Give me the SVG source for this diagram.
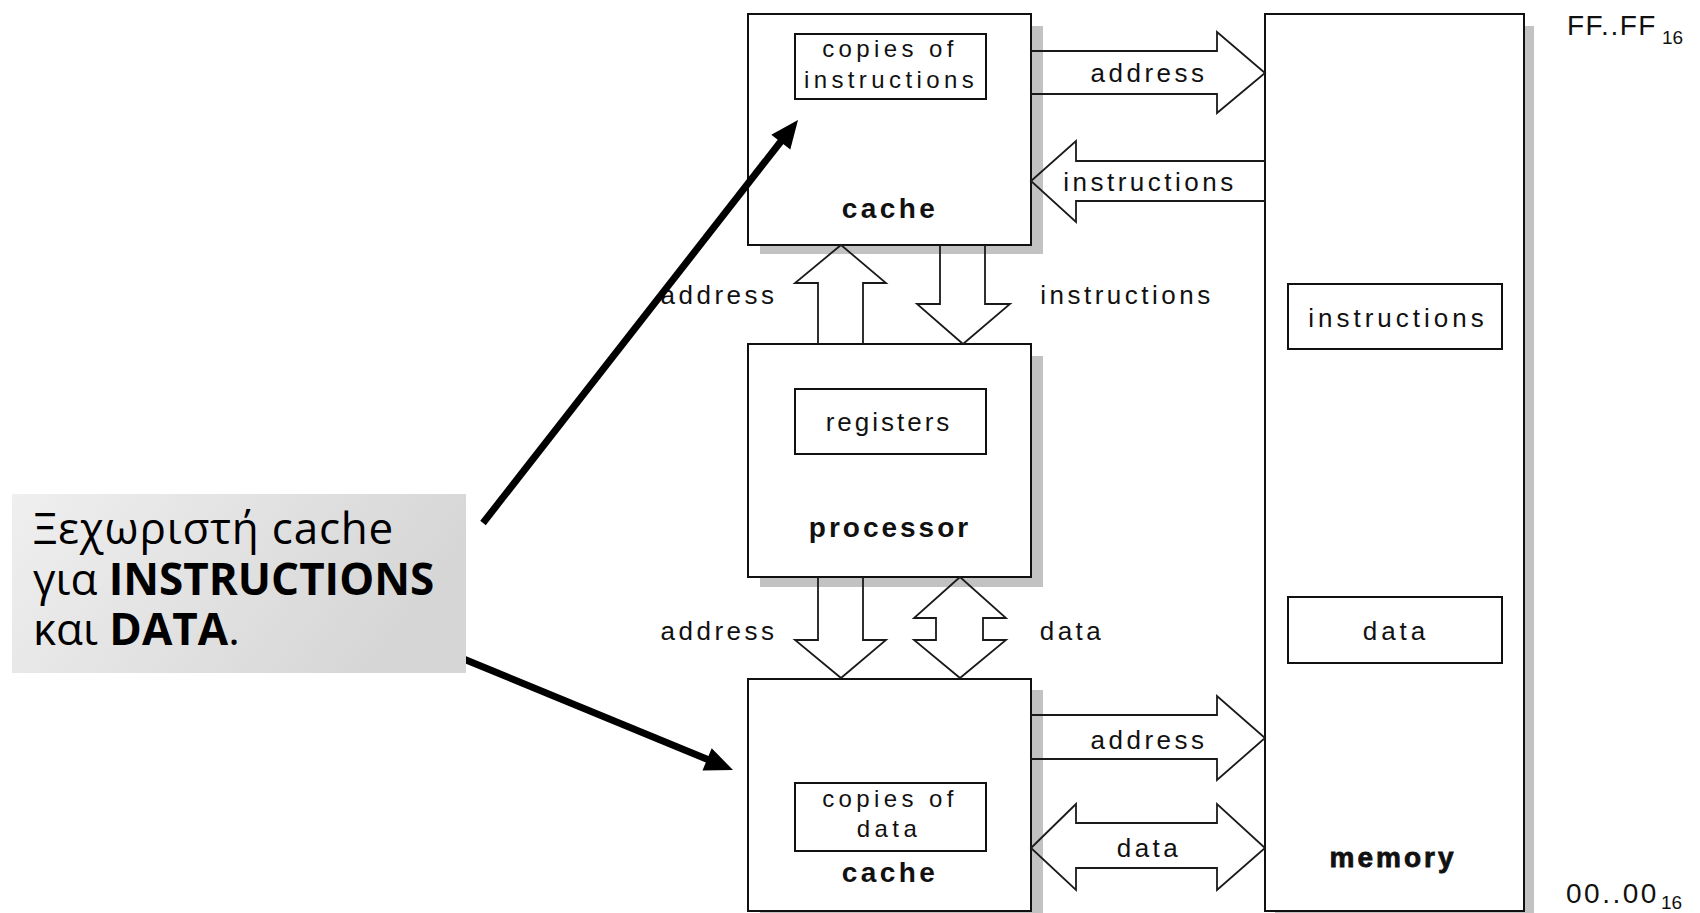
<svg xmlns="http://www.w3.org/2000/svg" width="1700" height="913" viewBox="0 0 1700 913">
  <defs>
    <linearGradient id="calloutFill" x1="0" y1="0" x2="1" y2="0.3">
      <stop offset="0" stop-color="#efefef"/>
      <stop offset="1" stop-color="#d6d6d6"/>
    </linearGradient>
    <style>
      .box { fill: #ffffff; stroke: #111111; stroke-width: 2; }
      .shadow { fill: #c2c2c2; stroke: none; }
      .inner { fill: none; stroke: #111111; stroke-width: 2; }
      .bus { fill: none; stroke: #1a1a1a; stroke-width: 1.8; stroke-linejoin: miter; }
      .lbl { font-family: "Liberation Sans", Arial, sans-serif; font-size: 26px; fill: #111111; letter-spacing: 3.5px; text-anchor: middle; }
      .small { font-size: 24px; letter-spacing: 4.4px; }
      .title { font-family: "Liberation Sans", Arial, sans-serif; font-size: 28px; font-weight: bold; fill: #111111; letter-spacing: 3.4px; text-anchor: middle; }
      .addr { font-family: "Liberation Sans", Arial, sans-serif; font-size: 28px; fill: #111111; }
      .sub { font-family: "Liberation Sans", Arial, sans-serif; font-size: 19px; fill: #111111; }
      .pointer { stroke: #000000; stroke-width: 7; fill: none; }
      .call { font-family: "Open Sans", "Noto Sans", sans-serif; font-size: 44px; fill: #000000; }
    </style>
  </defs>

  <rect width="1700" height="913" fill="#ffffff"/>

  <!-- drop shadows behind the blocks -->
  <g id="shadows">
    <rect class="shadow" x="760" y="26" width="283" height="228"/>
    <rect class="shadow" x="760" y="356" width="283" height="231"/>
    <rect class="shadow" x="760" y="690" width="283" height="232"/>
    <rect class="shadow" x="1275" y="26" width="259" height="897"/>
  </g>

  <!-- instruction cache -->
  <g id="icache">
    <rect class="box" x="748" y="14" width="283" height="231"/>
    <rect class="inner" x="795" y="34" width="191" height="65"/>
    <text class="lbl small" x="890" y="57">copies of</text>
    <text class="lbl small" x="891" y="88">instructions</text>
    <text class="title" x="890" y="218">cache</text>
  </g>

  <!-- processor -->
  <g id="processor">
    <rect class="box" x="748" y="344" width="283" height="233"/>
    <rect class="inner" x="795" y="389" width="191" height="65"/>
    <text class="lbl" x="889" y="431" style="letter-spacing:3px">registers</text>
    <text class="title" x="890" y="537" style="letter-spacing:3px">processor</text>
  </g>

  <!-- data cache -->
  <g id="dcache">
    <rect class="box" x="748" y="679" width="283" height="232"/>
    <rect class="inner" x="795" y="783" width="191" height="68"/>
    <text class="lbl small" x="890" y="807">copies of</text>
    <text class="lbl small" x="889" y="837">data</text>
    <text class="title" x="890" y="882">cache</text>
  </g>

  <!-- main memory -->
  <g id="memory">
    <rect class="box" x="1265" y="14" width="259" height="897"/>
    <rect class="inner" x="1288" y="284" width="214" height="65"/>
    <text class="lbl" x="1398" y="327" style="letter-spacing:4px">instructions</text>
    <rect class="inner" x="1288" y="597" width="214" height="66"/>
    <text class="lbl" x="1396" y="640" style="letter-spacing:4px">data</text>
    <text class="title" x="1393" y="867" style="stroke:#111111;stroke-width:0.8;letter-spacing:3px">memory</text>
  </g>

  <!-- address range marks -->
  <g id="range">
    <text class="addr" x="1567" y="35" style="letter-spacing:1.5px">FF..FF</text>
    <text class="sub" x="1662" y="44">16</text>
    <text class="addr" x="1566" y="903" style="letter-spacing:2.5px">00..00</text>
    <text class="sub" x="1661" y="909">16</text>
  </g>

  <!-- buses between the blocks -->
  <g id="connectors">
    <path class="bus" d="M1031,51 H1217 V32 L1265,73 L1217,113 V94 H1031"/>
    <text class="lbl" x="1149" y="82">address</text>

    <path class="bus" d="M1265,161 H1076 V141 L1031,181 L1076,222 V201 H1265"/>
    <text class="lbl" x="1150" y="191">instructions</text>

    <path class="bus" d="M818,344 V283 H795 L841,245 L886,283 H863 V344"/>
    <text class="lbl" x="719" y="304">address</text>

    <path class="bus" d="M940,245 V304 H917 L963,344 L1010,304 H985 V245"/>
    <text class="lbl" x="1127" y="304">instructions</text>

    <path class="bus" d="M818,577 V640 H795 L841,678 L886,640 H863 V577"/>
    <text class="lbl" x="719" y="640">address</text>

    <path class="bus" d="M960,577 L914,618 H936 V640 H914 L960,678 L1006,640 H983 V618 H1006 Z"/>
    <text class="lbl" x="1072" y="640">data</text>

    <path class="bus" d="M1031,715 H1217 V696 L1265,738 L1217,780 V759 H1031"/>
    <text class="lbl" x="1149" y="749">address</text>

    <path class="bus" d="M1031,848 L1076,804 V823 H1217 V804 L1265,848 L1217,890 V868 H1076 V890 Z"/>
    <text class="lbl" x="1149" y="857">data</text>
  </g>

  <!-- pointers from the note to both caches -->
  <g id="pointers">
    <line class="pointer" x1="483" y1="523" x2="782" y2="140"/>
    <polygon points="798,120 790.3,149.5 771.3,134.7" fill="#000000"/>
    <line class="pointer" x1="460" y1="657.5" x2="709" y2="760"/>
    <polygon points="733,770 702.5,770.4 711.7,748.2" fill="#000000"/>
  </g>

  <!-- note -->
  <g id="note">
    <rect x="12" y="494" width="454" height="179" fill="url(#calloutFill)"/>
    <text class="call" x="33" y="544" style="letter-spacing:0.8px">Ξεχωριστή cache</text>
    <text class="call" x="33" y="595">για <tspan font-weight="bold">INSTRUCTIONS</tspan></text>
    <text class="call" x="33" y="645">και <tspan font-weight="bold">DATA</tspan>.</text>
  </g>
</svg>
